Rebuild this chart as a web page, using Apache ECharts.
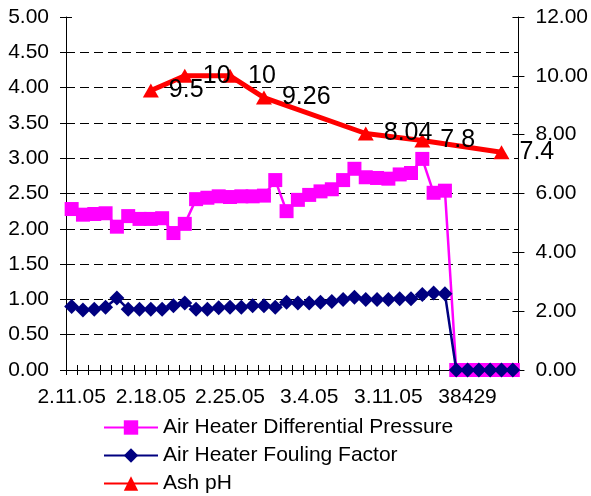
<!DOCTYPE html>
<html>
<head>
<meta charset="utf-8">
<script src="https://cdn.jsdelivr.net/npm/echarts@6/dist/echarts.min.js"></script>
<style>
html,body{margin:0;padding:0;background:#fff;}
#chart{width:591px;height:496px;}
</style>
</head>
<body>
<div id="chart"></div>
<script>
const categories = [
  "2.11.05","2.12.05","2.13.05","2.14.05","2.15.05","2.16.05","2.17.05",
  "2.18.05","2.19.05","2.20.05","2.21.05","2.22.05","2.23.05","2.24.05",
  "2.25.05","2.26.05","2.27.05","2.28.05","3.1.05","3.2.05","3.3.05",
  "3.4.05","3.5.05","3.6.05","3.7.05","3.8.05","3.9.05","3.10.05",
  "3.11.05","3.12.05","3.13.05","3.14.05","3.15.05","3.16.05","3.17.05",
  "38429","38430","38431","38432","38433"
];
const diffPressure = [
  2.28,2.20,2.21,2.22,2.03,2.18,2.14,2.14,2.15,1.94,
  2.07,2.42,2.44,2.46,2.45,2.46,2.46,2.47,2.69,2.25,
  2.41,2.48,2.53,2.56,2.69,2.85,2.73,2.72,2.71,2.77,
  2.79,2.99,2.51,2.54,0,0,0,0,0,0
];
const foulingFactor = [
  0.90,0.85,0.86,0.89,1.02,0.86,0.86,0.86,0.86,0.91,
  0.95,0.86,0.86,0.88,0.89,0.89,0.91,0.91,0.89,0.96,
  0.95,0.95,0.96,0.97,1.00,1.03,1.00,1.00,1.00,1.01,
  1.01,1.07,1.09,1.08,0,0,0,0,0,0
];
const ashPH = [
  null,null,null,null,null,null,null,9.5,null,null,
  10,null,null,null,10,null,null,9.26,null,null,
  null,null,null,null,null,null,8.04,null,null,null,
  null,7.8,null,null,null,null,null,null,7.4,null
];
const seriesNames = ["Air Heater Differential Pressure","Air Heater Fouling Factor","Ash pH"];

const FONT = "Liberation Sans, Arial, sans-serif";
const chart = echarts.init(document.getElementById('chart'), null, {renderer:'canvas'});
const fmt2 = v => v.toFixed(2);

chart.setOption({
  animation:false,
  backgroundColor:'#fff',
  textStyle:{fontFamily:FONT},
  grid:{left:66,right:69,top:17,height:353,containLabel:false},
  legend:{
    orient:'vertical', left:103, top:417, height:120, padding:0,
    itemWidth:54, itemHeight:18, itemGap:7,
    textStyle:{fontSize:21,color:'#000',fontFamily:FONT},
    lineStyle:{width:2},
    data:seriesNames
  },
  xAxis:[{
    type:'category', data:categories, boundaryGap:true,
    axisLine:{lineStyle:{color:'#000',width:1}},
    axisTick:{show:true,interval:0,length:5,lineStyle:{color:'#000'}},
    axisLabel:{interval:6,fontSize:21,color:'#000',margin:17,fontFamily:FONT,hideOverlap:false},
    splitLine:{show:false}
  },{
    type:'category', data:categories, boundaryGap:true, position:'bottom',
    axisLine:{show:false},
    axisTick:{show:true,inside:true,interval:0,length:5,lineStyle:{color:'#000'}},
    axisLabel:{show:false}, splitLine:{show:false}
  }],
  yAxis:[{
    type:'value', position:'left', min:0, max:5, interval:0.5,
    axisLine:{show:true,lineStyle:{color:'#000',width:1}},
    axisTick:{show:true,length:6,lineStyle:{color:'#000'}},
    axisLabel:{formatter:fmt2,fontSize:21,color:'#000',margin:17,fontFamily:FONT},
    splitLine:{show:true,showMinLine:false,showMaxLine:false,lineStyle:{color:'#000',type:[9,5],width:1}}
  },{
    type:'value', position:'right', min:0, max:12, interval:2,
    axisLine:{show:true,lineStyle:{color:'#000',width:1}},
    axisTick:{show:true,length:6,lineStyle:{color:'#000'}},
    axisLabel:{formatter:fmt2,fontSize:21,color:'#000',margin:17,fontFamily:FONT},
    splitLine:{show:false}
  },{
    type:'value', position:'left', min:0, max:5, interval:0.5,
    axisLine:{show:false},
    axisTick:{show:true,inside:true,length:6,lineStyle:{color:'#000'}},
    axisLabel:{show:false}, splitLine:{show:false}
  },{
    type:'value', position:'right', min:0, max:12, interval:2,
    axisLine:{show:false},
    axisTick:{show:true,inside:true,length:6,lineStyle:{color:'#000'}},
    axisLabel:{show:false}, splitLine:{show:false}
  }],
  series:[{
    name:seriesNames[0], type:'line', data:diffPressure, yAxisIndex:0, z:2,
    symbol:'rect', symbolSize:14, showAllSymbol:true,
    lineStyle:{color:'#FF00FF',width:2.5},
    itemStyle:{color:'#FF00FF'}
  },{
    name:seriesNames[1], type:'line', data:foulingFactor, yAxisIndex:0, z:3,
    symbol:'diamond', symbolSize:[15,15], showAllSymbol:true,
    lineStyle:{color:'#000080',width:2.5},
    itemStyle:{color:'#000080'}
  },{
    name:seriesNames[2], type:'line', data:ashPH, yAxisIndex:1, z:4,
    connectNulls:true, showAllSymbol:true,
    symbol:'triangle', symbolSize:[16,14],
    lineStyle:{color:'#FF0000',width:5},
    itemStyle:{color:'#FF0000'},
    labelLayout:{hideOverlap:false},
    label:{show:true,position:'right',distance:10,fontSize:25,color:'#000',fontFamily:FONT,
      formatter:p=>String(p.value)}
  }]
});
</script>
</body>
</html>
